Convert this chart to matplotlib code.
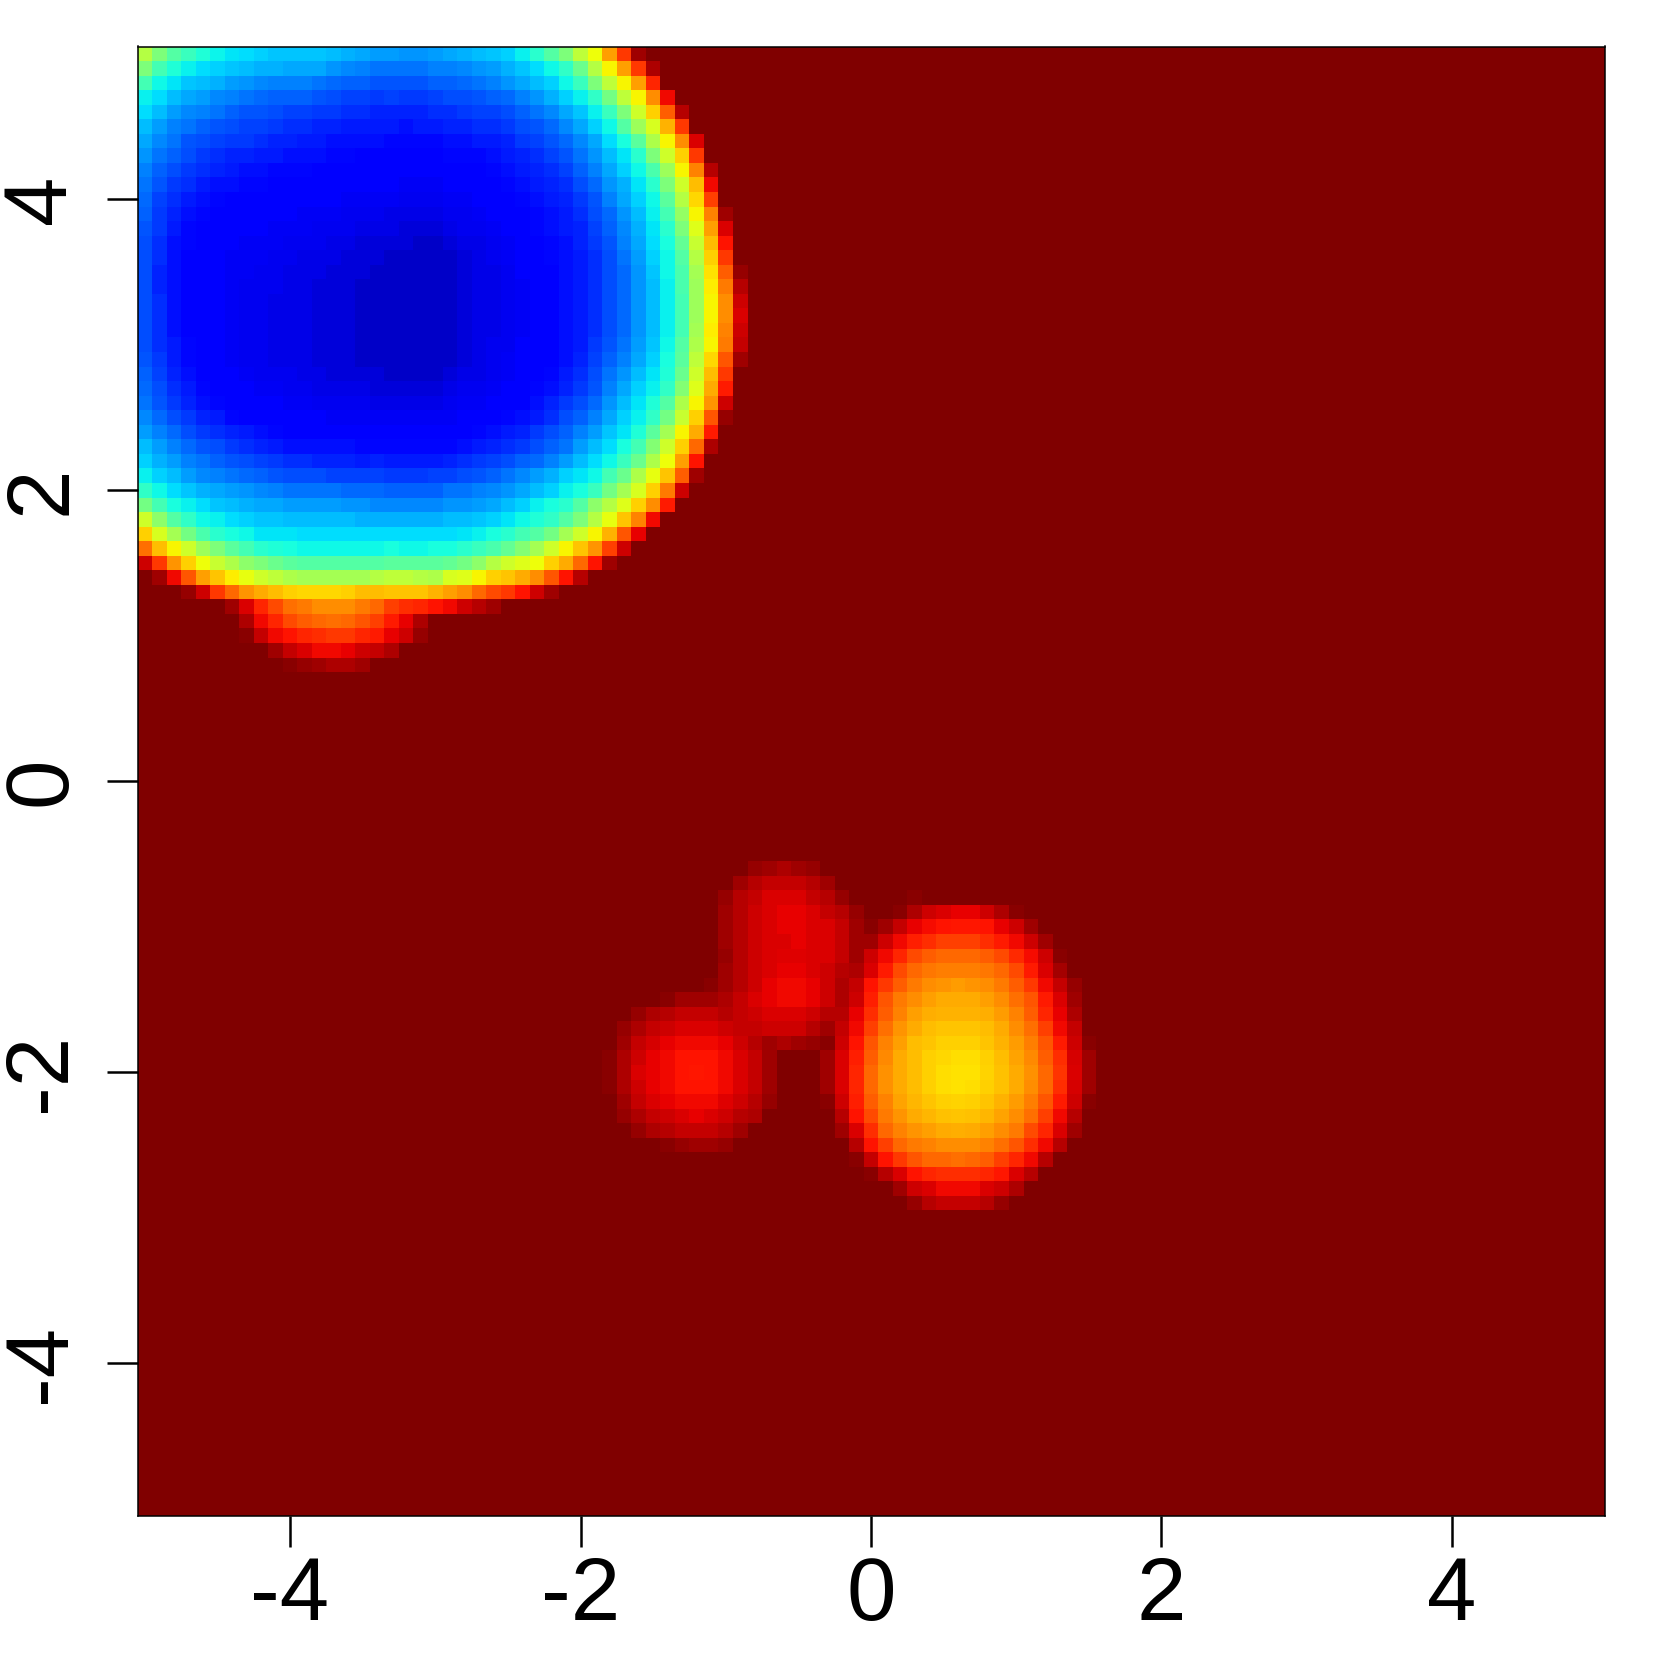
import numpy as np
import matplotlib
matplotlib.use("Agg")
import matplotlib.pyplot as plt

plt.rcParams['font.family'] = ['Liberation Sans', 'DejaVu Sans']

x_cells = [round(-5 + 0.1 * i, 1) for i in range(101)]
y_cells = [round(5 - 0.1 * j, 1) for j in range(101)]
background_level = 100
tick_values = [-4, -2, 0, 2, 4]
tick_labels = ['-4', '-2', '0', '2', '4']

# Colour levels (percent of the jet scale) read cell by cell; each entry: first row, first column
upper_left_start = (0, 0)
upper_left_rows = [
 [57,50,45,42,39,36.5,35,34,33,32,32,32,32,31,30,29,28,28,27,27,28,29,30,31,32,33,36,40,45,50,58,64,74,85,97],
 [50,43,39,36,34,33,32,31,30,30,29,29,29,27,26,25,24,24,24,24,25,25,26,27,28,30,32,34,37,41,48,57,65,74,85,96],
 [43,37,35,32,31,30,28,27,26,25,25,25,24,23,22,22,21,21,21,21,22,22,23,24,25,27,29,31,33,37,42,50,58,65,74,87],
 [36,34,31,29,28,26,25,24,23,22,22,22,21,20,19,19,18,19,18,18,19,20,20,21,22,23,25,27,30,33,36,41,49,58,65,76,90],
 [34,31,28,26,25,24,22,21,21,20,19,19,18,18,17,17,16,16,16,16,17,17,18,19,19,20,22,24,26,29,32,36,42,50,60,69,81,95],
 [31,28,25,24,22,21,20,19,19,18,17,17,16,16,15,15,15,15,14,15,15,16,16,17,17,18,20,21,23,26,29,33,37,45,54,61,72,85],
 [29,26,24,21,20,19,18,18,17,16,16,15,15,14,14,14,14,13,13,13,13,14,14,15,15,16,18,19,21,23,26,29,34,38,46,56,65,76,92],
 [27,24,22,20,18,17,16,16,15,15,14,14,14,13,13,12,12,12,12,12,12,13,13,13,14,15,16,17,19,21,24,27,31,35,40,50,60,69,85],
 [25,22,20,18,17,16,15,14,14,13,13,13,12,12,12,12,12,12,12,11,11,12,12,12,13,14,15,16,17,19,22,25,29,33,37,44,54,65,77,95],
 [24,21,18,17,15,14,14,13,13,12,12,12,12,12,11,11,11,11,10.5,10.5,10.5,11,11,12,12,13,14,15,16,17,20,23,27,30,35,40,50,60,71,90],
 [23,19,17,15,14,13,12,12,12,12,12,11,11,11,10.5,10.5,10.5,10.5,10,10,10,10.5,10.5,11,12,12,13,14,15,16,18,21,25,29,33,37,46,57,68,84],
 [22,18,16,14,13,12,12,12,11,11,11,10.5,10.5,10.5,10,10,10,9,9,9,9,10,10,10.5,11,12,12,13,14,15,17,20,23,27,31,36,43,53,65,77,97],
 [21,18,15,13,12,12,12,11,11,10.5,10.5,10.5,10,10,10,9,9,9,8,8,8,9,10,10,10.5,11,12,13,14,15,16,19,22,26,30,35,40,50,62,74,92],
 [20,17,14,13,12,12,11,10.5,10.5,10.5,10,10,10,9,9,8,8,8,8,6.5,6.5,8,9,9,10,10.5,12,12,13,14,16,18,21,25,29,34,38,47,59,71,89],
 [20,17,14,12,12,11,10.5,10.5,10.5,10,10,9,9,9,8,8,8,6.5,6.5,6.5,6.5,6.5,8,9,10,10.5,11,12,13,14,15,17,20,24,28,33,37,45,57,69,85],
 [20,16,14,12,12,11,10.5,10.5,10,10,9,9,9,8,8,8,6.5,6.5,6.5,6.5,6.5,6.5,8,9,9,10,11,12,12,14,15,17,20,23,27,32,37,44,55,67,81,98],
 [20,16,14,12,12,11,10.5,10,10,10,9,9,8,8,8,6.5,6.5,6.5,6.5,6.5,6.5,6.5,8,9,9,10,10.5,11,12,14,15,17,20,23,27,31,36,44,54,66,78,95],
 [20,17,14,12,12,11,10.5,10,10,9,9,9,8,8,8,6.5,6.5,6.5,6.5,6.5,6.5,6.5,8,9,9,10,10.5,11,12,14,15,17,20,23,27,31,36,43,54,65,76,93],
 [20,17,14,12,12,11,10.5,10,10,9,9,9,8,8,8,6.5,6.5,6.5,6.5,6.5,6.5,6.5,8,9,9,10,10.5,11,12,14,15,17,20,23,27,31,36,43,54,65,76,92],
 [20,17,14,12,12,11,10.5,10,10,9,9,9,8,8,8,6.5,6.5,6.5,6.5,6.5,6.5,6.5,8,9,9,10,10.5,11,12,14,15,17,20,23,27,31,36,43,55,66,77,93],
 [20,17,15,13,12,11,10.5,10,10,9,9,9,8,8,8,6.5,6.5,6.5,6.5,6.5,6.5,6.5,8,9,10,10,11,12,12,14,15,18,21,24,28,32,37,45,56,65,78,94],
 [21,18,15,13,12,12,10.5,10,10,9,9,9,8,8,8,6.5,6.5,6.5,6.5,6.5,6.5,6.5,8,9,10,10.5,11,12,12,14,16,19,22,25,29,33,38,46,58,68,82,97],
 [22,19,16,14,12,12,11,10.5,10,10,10,9,9,8,8,8,8,6.5,6.5,6.5,6.5,8,9,9,10,10.5,11,12,13,15,17,20,24,27,31,35,39,48,60,71,85],
 [23,20,17,15,13,12,12,11,10.5,10.5,10,10,9,9,9,9,8,8,8,8,8,9,10,10,10.5,11,12,13,14,16,18,21,25,29,33,36,41,51,62,73,88],
 [24,21,18,16,14,13,12,12,11,11,10.5,10.5,10,10,10,10,9,9,9,9,9,10,10.5,10.5,11,12,12,14,16,18,20,23,27,31,35,39,45,56,65,75,93],
 [26,23,20,18,16,15,13,12,12,12,11,11,11,10.5,10.5,10.5,10.5,10.5,10.5,10.5,10.5,10.5,11,12,12,13,14,15,17,20,22,25,29,33,36,41,49,59,69,82,98],
 [28,25,23,20,18,17,16,15,14,13,12,12,12,12,12,12,12,11,11,11,11,12,12,13,14,15,16,18,20,22,25,28,32,35,39,46,55,65,73,88],
 [31,28,25,23,21,20,18,17,16,15,14,14,14,14,14,13,13,13,13,13,13,13,14,15,16,17,18,20,22,24,28,31,34,38,43,51,60,69,80,96],
 [33,30,28,25,24,22,21,20,19,18,17,17,16,16,16,15,16,15,15,15,15,16,17,18,19,20,22,23,25,28,31,34,37,42,48,56,64,74,89],
 [36,33,31,28,26,25,24,23,22,21,20,20,20,19,19,19,19,18,18,18,19,19,20,21,22,24,26,28,30,33,35,37,43,48,56,63,70,81,97],
 [41,37,34,32,30,29,28,27,26,25,24,24,24,24,23,23,23,22,22,22,22,24,24,25,26,27,29,31,33,36,38,42,49,55,61,69,78,93],
 [49,43,38,36,34,32,31,30,29,29,28,28,28,28,27,27,26,26,26,26,26,27,27,28,29,31,33,36,38,40,45,52,57,62,69,76,88],
 [60,52,45,41,37,36,34,33,32,32,31,31,31,31,31,30,30,30,30,30,30,31,31,32,33,35,37,39,41,45,50,57,63,70,77,90],
 [69,61,55,49,44,40,38,37,35,35,35,34,34,34,34,34,34,34,34,34,34,34,35,36,38,40,43,45,49,55,60,65,72,82,91],
 [79,71,65,60,54,50,46,43,40,39,38,37,37,37,37,37,37,38,37,37,38,38,40,42,44,47,51,55,60,65,70,75,84,93],
 [93,85,75,69,64,59,56,52,50,48,46,45,45,45,45,45,45,46,46,46,46,47,49,52,57,60,62,64,69,73,80,89,97],
 [100,97,90,82,74,70,66,63,60,58,56,55,55,55,55,55,57,58,58,57,56,61,62,65,69,70,73,76,82,89,95],
 [100,100,100,98,93,85,80,75,73,71,69,68,68,68,69,71,71,70,70,70,72,74,76,80,83,85,89,93,97],
 [100,100,100,100,100,100,97,92,87,83,79,78,76,76,76,78,80,84,86,87,89,90,93,95,97],
 [100,100,100,100,100,100,100,96,90,87,83,81,80,79,80,82,84,88,91,96],
 [100,100,100,100,100,100,100,99,94,90,89,87,86,85,85,87,88,91,93,98],
 [100,100,100,100,100,100,100,100,100,97,94,92,90,90,91,93,94,96],
 [100,100,100,100,100,100,100,100,100,100,99,98,97,96,96,97],
]

lower_start = (56, 32)
lower_rows = [
 [100,100,100,100,100,100,100,100,100,100,98,97,96,97,98],
 [100,100,100,100,100,100,100,100,100,97,95,94,94,94,95,97],
 [100,100,100,100,100,100,100,100,98,95,94,92,92,92,94,95,98,100,100,100,100,99],
 [100,100,100,100,100,100,100,100,97,95,93,92,91,91,92,94,95,98,100,100,99,96,93,92,91,91,93,96,99],
 [100,100,100,100,100,100,100,100,97,95,93,92,91,91,92,92,94,97,99,97,94,91,89.5,89,88.5,88.5,89,91,93,97],
 [100,100,100,100,100,100,100,100,97,95,93,92,92,91,92,92,94,97,97,93,90,87.5,86,84,84,84,86,88,90,93,97],
 [100,100,100,100,100,100,100,100,98,95,93,92,91.5,91.5,92,92,94,97,93,90,87,83,81,80,80,80,81,83,86.5,89.5,93,99],
 [100,100,100,100,100,100,100,100,97,95,93,92,91,91,92,93,95,96,92,88,83,80,78.5,77.5,77.5,77.5,78.5,80,83,88,92,96.5],
 [100,100,100,100,100,100,100,99,97,95,93,91,90,90,91,93,96,94,89,85,81,78,76,75,74.5,75,76,78,81,85,90,94,98],
 [100,100,100,100,99,97,97,97,96,94,92,91,90,90,91,93,96,93,87.5,82,78,76,74,73,73,73,74,76,79,82,88,92,97],
 [100,100,98,96,95,94,94,94,95,94,93,92,92,92,93,95,95,91,86,81,77,74,72.5,72,72,72,72.5,74.5,77,81,87,91,96],
 [100,98,96,94,93,92,92,92,93,94,94,93,93,93,95,97,94,90,84,79,75,73,71,70,70,70,71,73,76,79,84,90,94],
 [100,97,94,92.5,91,90,90,90,91,93,95,97,96,97,98,99,93,89,82,77,74,71,70,69,69,69,70,72,74.5,77.5,82,88,93,99],
 [99,96,93,91,90,89,89,89,90,92,94,97,100,100,100,97,92,87.5,81,76.5,73,71,69,68,67.5,67.5,69,71,73.5,76.5,81,86,92.5,97],
 [99,96,92,91,90,89,88.5,89,90,92,94,97,100,100,100,97,92,87,80,75.5,73,71,69,67.5,67,67,68.5,70.5,73,75.5,80,85.5,92,97],
 [99,96,93,91,90,89,89,89,90,92,94,97,100,100,100,97,92,87,80,75.5,73,71,69,67.5,67,67.5,69,70.5,73,76,80,86,92.5,97],
 [100,97,94,92,91,90,90,90,91.5,93,95,98,100,100,100,99,93,87.5,81,77,73.5,71.5,70,69,68.5,69,70,72,74.5,77.5,82,88,93,99],
 [100,98,96,94,93,92,91,92,93,95,96,100,100,100,100,100,95,89,83,78,75,73,71.5,70.5,70,70.5,71.5,73.5,76,79,84,90,95],
 [100,100,98,96,95,94,94,94,95,97,100,100,100,100,100,100,97,92,86,80,77,75,74,73,72.5,73,74,76,78,83,87,92,97],
 [100,100,100,100,99,98,97,97,98,100,100,100,100,100,100,100,100,95,89,84,80,78,77,76,76,76,77,79,82,86,90,95],
 [100,100,100,100,100,100,100,100,100,100,100,100,100,100,100,100,100,99,94,89,85,82,80,80,79,80,81,84,87,90,95],
 [100,100,100,100,100,100,100,100,100,100,100,100,100,100,100,100,100,100,99,95,92,89,87,86,86,86,87,88.5,92,95],
 [100,100,100,100,100,100,100,100,100,100,100,100,100,100,100,100,100,100,100,100,97,93,92,90,90,90,92,93,96],
 [100,100,100,100,100,100,100,100,100,100,100,100,100,100,100,100,100,100,100,100,100,98,95,94,94,94,95,98],
]

grid = np.full((len(y_cells), len(x_cells)), float(background_level))
for (row0, col0), rows in ((upper_left_start, upper_left_rows), (lower_start, lower_rows)):
    for j, vals in enumerate(rows):
        grid[row0 + j, col0:col0 + len(vals)] = vals

W = H = 1653
fig = plt.figure(figsize=(W / 100, H / 100), dpi=100, facecolor='white')
ax = fig.add_axes([137.5 / W, (H - 1516) / H, 1467 / W, 1469.5 / H])
ax.pcolormesh(x_cells, y_cells, grid, cmap='jet', vmin=0, vmax=100,
              shading='nearest', antialiased=False, rasterized=True)
ax.set_xlim(-5.05, 5.05)
ax.set_ylim(-5.05, 5.05)
ax.set_xticks(tick_values)
ax.set_xticklabels(tick_labels)
ax.set_yticks(tick_values)
ax.set_yticklabels(tick_labels, rotation=90, va='center')
ax.tick_params(axis='both', direction='out', length=22, width=1.8, labelsize=64, color='black')
ax.tick_params(axis='x', pad=6)
ax.tick_params(axis='y', pad=16.5)
for s in ax.spines.values():
    s.set_linewidth(1.1)
    s.set_color('black')
fig.savefig('out.png', dpi=100, facecolor='white')
